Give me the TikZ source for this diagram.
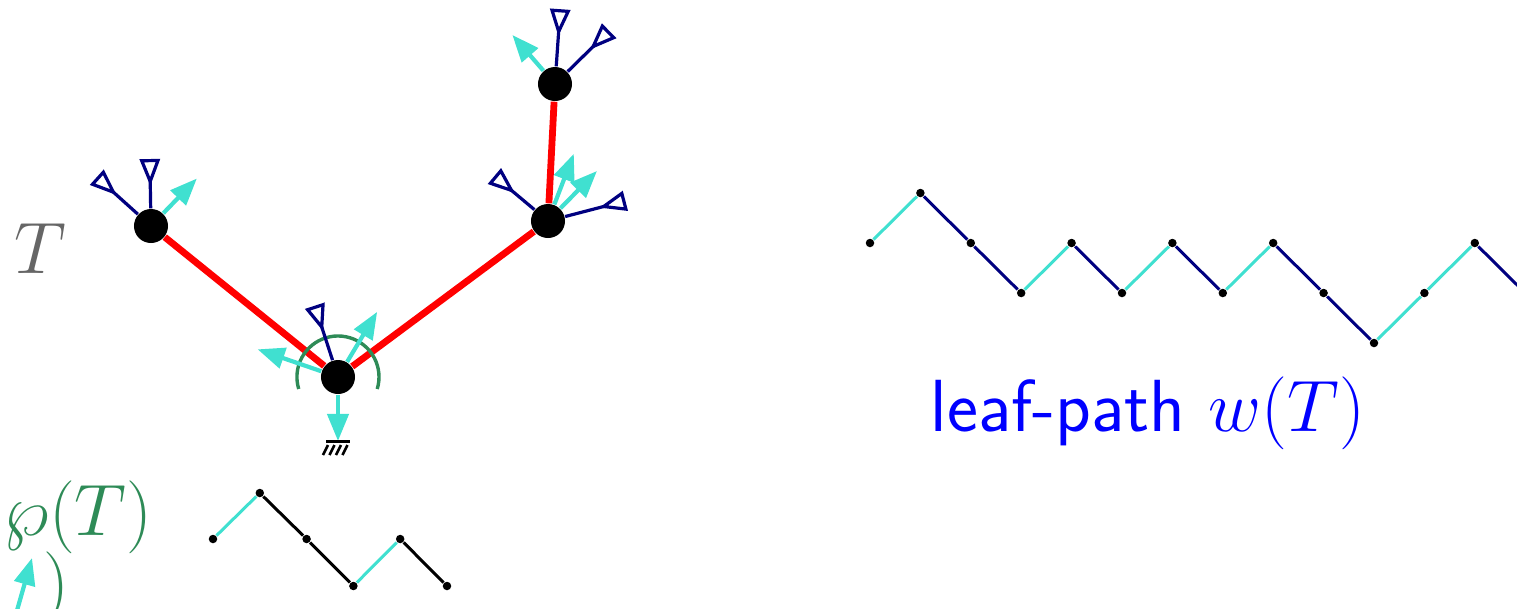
\documentclass[tikz,border=0pt]{standalone}
\usepackage{amsmath}
\usetikzlibrary{arrows.meta,calc}
\definecolor{edgeRed}{HTML}{FF0000}
\definecolor{leafNavy}{HTML}{000080}
\definecolor{arcCyan}{HTML}{40E0D0}
\definecolor{markGreen}{HTML}{2E8B57}
\definecolor{labelGray}{HTML}{666666}
\definecolor{labelBlue}{HTML}{0000FF}
\tikzset{
  treeNode/.style={circle, fill=black, minimum size=0.34cm, inner sep=0pt},
  pathDot/.style={circle, fill=black, minimum size=0.085cm, inner sep=0pt},
  redEdge/.style={draw=edgeRed, line width=0.068cm},
  leafArc/.style={draw=leafNavy, line width=0.032cm,
    -{Triangle[open, reversed, length=0.27cm, width=0.2cm]}},
  cyanArc/.style={draw=arcCyan, line width=0.042cm,
    -{Triangle[length=0.27cm, width=0.21cm]}},
  upStep/.style={draw=arcCyan, line width=0.03cm},
  downStep/.style={draw=leafNavy, line width=0.03cm},
  blackStep/.style={draw=black, line width=0.03cm},
  groundLine/.style={draw=black, line width=0.03cm},
  bigText/.style={font=\fontsize{19.5}{23}\selectfont, inner sep=0pt},
}

\begin{document}
\begin{tikzpicture}[x=0.01cm, y=0.01cm]
    \path[use as bounding box] (0,0) rectangle (1517,-608);
    \clip (0,0) rectangle (1517,-608);
    % tree T
    \node[treeNode] (root) at (338,-377) {};
    \node[treeNode] (lnode) at (151,-226) {};
    \node[treeNode] (rnode) at (548,-221) {};
    \node[treeNode] (tnode) at (555,-84) {};
    \draw[redEdge] (root) -- (lnode);
    \draw[redEdge] (root) -- (rnode);
    \draw[redEdge] (rnode) -- (tnode);
    \draw[markGreen, line width=0.034cm] ($(root)+(-17:41)$) arc[start angle=-17, end angle=197, radius=0.41cm];
    % leaves and arrows
    \foreach \a/\r in {91/67, 138/73} \draw[leafArc] (lnode) -- +(\a:\r);
    \draw[cyanArc] (lnode) -- +(46:66);
    \draw[leafArc] (root) -- +(108:75);
    \foreach \a/\r in {59/76, 161/85} \draw[cyanArc] (root) -- +(\a:\r);
    \foreach \a/\r in {140/70, 14.6/80} \draw[leafArc] (rnode) -- +(\a:\r);
    \foreach \a/\r in {69/72, 45.6/70} \draw[cyanArc] (rnode) -- +(\a:\r);
    \foreach \a/\r in {86/75, 44.5/76} \draw[leafArc] (tnode) -- +(\a:\r);
    \draw[cyanArc] (tnode) -- +(131:65);
    % ground
    \coordinate (gnd) at (338,-441);
    \draw[cyanArc] (root) -- (gnd);
    \draw[groundLine] ($(gnd)+(-12,0)$) -- ($(gnd)+(12,0)$);
    \foreach \i in {0,...,3} \draw[groundLine, line width=0.026cm] ($(gnd)+(-15+6.5*\i,-14)$) -- ++(5,10);
    % leaf-path w(T)
    \foreach \h [count=\k from 0] in {243,193,243,293,243,293,243,293,243,293,343,293,243,293}
      \node[pathDot] (w\k) at ({870+50.4*\k},-\h) {};
    \foreach \k/\st [evaluate=\k as \p using int(\k-1)] in {1/upStep,2/downStep,3/downStep,4/upStep,5/downStep,6/upStep,7/downStep,8/upStep,9/downStep,10/downStep,11/upStep,12/upStep,13/downStep}
      \draw[\st] (w\p) -- (w\k);
    % path of wp(T)
    \foreach \h [count=\k from 0] in {539,493,539,586,539,586}
      \node[pathDot] (p\k) at ({213+46.8*\k},-\h) {};
    \foreach \k/\st [evaluate=\k as \p using int(\k-1)] in {1/upStep,2/blackStep,3/blackStep,4/upStep,5/blackStep}
      \draw[\st] (p\p) -- (p\k);
    % labels
    \node[bigText, text=labelGray] (tlabel) at (40,-249) {$T$};
    \node[bigText, text=markGreen, anchor=base west] (wplabel) at (3,-535) {$\wp(T)$};
    \node[bigText, text=markGreen, anchor=base west] (wpclose) at (43,-606) {$)$};
    \coordinate (upTail) at (16,-614);
    \coordinate (upTip) at (32,-558);
    \draw[cyanArc] (upTail) -- (upTip);
    \node[bigText, text=labelBlue, anchor=base west] (wlabel) at (930,-431)
      {\fontsize{21}{25}\selectfont\sffamily leaf-path\ \fontsize{19.5}{23}\selectfont$w(T)$};
\end{tikzpicture}
\end{document}
